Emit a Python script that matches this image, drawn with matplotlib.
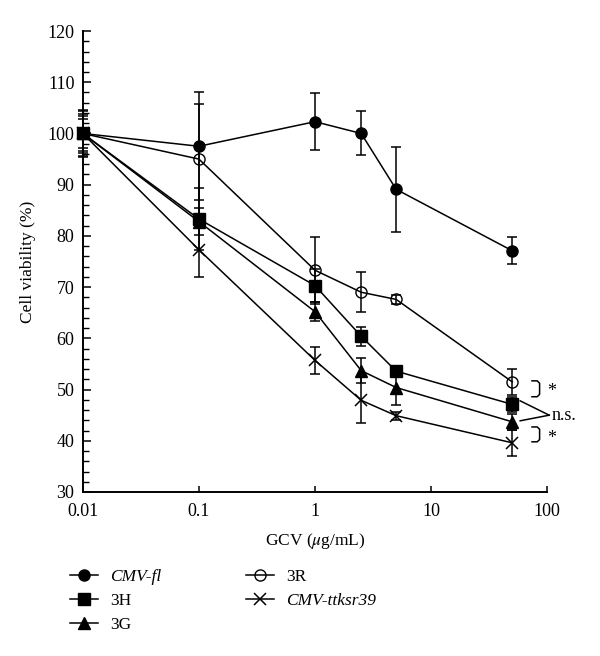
import numpy as np
import matplotlib
matplotlib.use('Agg')
import matplotlib.pyplot as plt
from matplotlib.ticker import FixedLocator, MultipleLocator, FuncFormatter
from matplotlib.lines import Line2D

plt.rcParams['font.family'] = ['Liberation Serif', 'DejaVu Serif']
plt.rcParams['mathtext.fontset'] = 'stix'

# GCV concentrations (ug/mL)
gcv = [0.01, 0.1, 1, 2.5, 5, 50]

# cell viability (%) and error bars for each construct
cmv_fl = [100, 97.5, 102.3, 100.0, 89.1, 77.1]
cmv_fl_err = [4.5, 10.5, 5.6, 4.3, 8.3, 2.6]
h3 = [100, 83.3, 70.3, 60.4, 53.6, 47.1]
h3_err = [3.8, 6.0, 3.2, 1.8, 1.0, 1.5]
g3 = [100, 82.8, 65.2, 53.7, 50.4, 43.7]
g3_err = [2.9, 2.6, 1.8, 2.4, 3.5, 1.5]
r3 = [100, 95.0, 73.3, 69.0, 67.6, 51.5]
r3_err = [4.4, 10.7, 6.5, 3.9, 0.8, 2.6]
ttksr = [100, 77.3, 55.7, 47.9, 44.9, 39.6]
ttksr_err = [3.5, 5.4, 2.6, 4.5, 0.8, 2.5]

x_ticks = [0.01, 0.1, 1, 10, 100]
x_tick_labels = ['0.01', '0.1', '1', '10', '100']

fig = plt.figure(figsize=(6.0, 6.56), dpi=100)
ax = fig.add_axes([0.138, 0.25, 0.774, 0.7027])

series = [
    (cmv_fl, cmv_fl_err, dict(marker='o', ms=8, mfc='black'), 'CMV-fl', True),
    (h3, h3_err, dict(marker='s', ms=8.5, mfc='black'), '3H', False),
    (g3, g3_err, dict(marker='^', ms=8.5, mfc='black'), '3G', False),
    (r3, r3_err, dict(marker='o', ms=8, mfc='none'), '3R', False),
    (ttksr, ttksr_err, dict(marker='x', ms=9, mew=1.1), 'CMV-ttksr39', True),
]

for vals, err, mk, name, ital in series:
    ax.errorbar(gcv, vals, yerr=err, color='black', lw=1.1, elinewidth=1.1,
                capsize=3.5, capthick=1.1, mec='black', clip_on=False, **mk)

ax.set_xscale('log')
ax.set_xlim(0.01, 100)
ax.set_ylim(30, 120)
ax.xaxis.set_major_locator(FixedLocator(x_ticks))
ax.xaxis.set_major_formatter(FuncFormatter(lambda v, p: x_tick_labels[x_ticks.index(v)] if v in x_ticks else ''))
ax.xaxis.set_minor_locator(FixedLocator([]))
ax.yaxis.set_major_locator(MultipleLocator(10))
ax.yaxis.set_minor_locator(MultipleLocator(2))

for s in ['top', 'right']:
    ax.spines[s].set_visible(False)
for s in ['left', 'bottom']:
    ax.spines[s].set_linewidth(1.4)

ax.tick_params(axis='both', which='major', direction='in', length=6, width=1.1,
               labelsize=13, pad=6)
ax.tick_params(axis='y', which='minor', direction='in', length=4, width=1.0)
ax.tick_params(axis='x', which='major', length=4, pad=8)

ax.set_ylabel('Cell viability (%)', fontsize=12.5, labelpad=8)
ax.set_xlabel('GCV ($\\mu$g/mL)', fontsize=12.5, labelpad=8)

# significance annotations
def bracket(top, bot):
    xs = [74, 82, 86, 86, 82, 74]
    d = (top - bot) * 0.15
    ys = [top, top, top - d, bot + d, bot, bot]
    ax.plot(xs, ys, color='black', lw=1.1, clip_on=False)

bracket(51.7, 48.6)
bracket(42.7, 39.8)
ax.text(99, 49.6, '*', fontsize=13, ha='left', va='center', clip_on=False)
ax.text(99, 40.4, '*', fontsize=13, ha='left', va='center', clip_on=False)
ax.plot([58.5, 104], [47.8, 45.0], color='black', lw=1.1, clip_on=False)
ax.plot([58.5, 104], [43.9, 45.0], color='black', lw=1.1, clip_on=False)
ax.text(110, 45.0, 'n.s.', fontsize=13, ha='left', va='center', clip_on=False)

# legend
handles = []
labels = []
for vals, err, mk, name, ital in series:
    handles.append(Line2D([], [], color='black', lw=1.1, mec='black', **mk))
    labels.append(name)
leg = fig.legend(handles, labels, ncol=2, loc='upper left',
                 bbox_to_anchor=(0.105, 0.143), frameon=False, fontsize=12.5,
                 handlelength=1.6, handletextpad=0.7, columnspacing=4.9,
                 labelspacing=0.44, borderaxespad=0)
for t, (vals, err, mk, name, ital) in zip(leg.get_texts(), series):
    if ital:
        t.set_fontstyle('italic')

fig.savefig('out.png', dpi=100)
